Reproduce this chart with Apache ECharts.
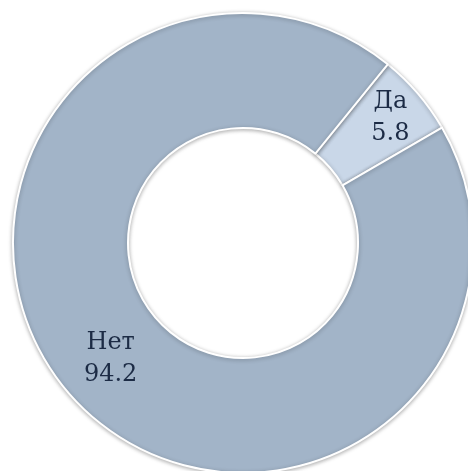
<!DOCTYPE html>
<html>
<head>
<meta charset="utf-8">
<script src="https://cdn.jsdelivr.net/npm/echarts@6/dist/echarts.min.js"></script>
<style>html,body{margin:0;padding:0;background:#fff;}#c{width:468px;height:471px;}</style>
</head>
<body>
<div id="c"></div>
<script>
var categories = ['Да', 'Нет'];
var values = [5.8, 94.2];
var colors = ['#C9D7E8', '#A2B4C8'];

var chart = echarts.init(document.getElementById('c'), null, {renderer: 'canvas'});
chart.setOption({
  animation: false,
  series: [{
    type: 'pie',
    center: [243, 243],
    radius: [115, 230],
    startAngle: 51,
    clockwise: true,
    avoidLabelOverlap: false,
    itemStyle: {
      borderColor: '#ffffff',
      borderWidth: 2,
      shadowBlur: 4,
      shadowColor: 'rgba(0,0,0,0.3)',
      shadowOffsetY: 1
    },
    label: {
      show: true,
      position: 'inside',
      formatter: function (p) { return p.name + '\n' + p.value; },
      fontFamily: 'DejaVu Serif',
      fontSize: 24,
      lineHeight: 32,
      color: '#1C2B45'
    },
    labelLine: {show: false},
    data: categories.map(function (c, i) {
      var d = {name: c, value: values[i], itemStyle: {color: colors[i]}};
      if (i === 0) d.label = {offset: [14, -11]};
      else d.label = {offset: [1, 2]};
      return d;
    })
  }]
});
</script>
</body>
</html>
